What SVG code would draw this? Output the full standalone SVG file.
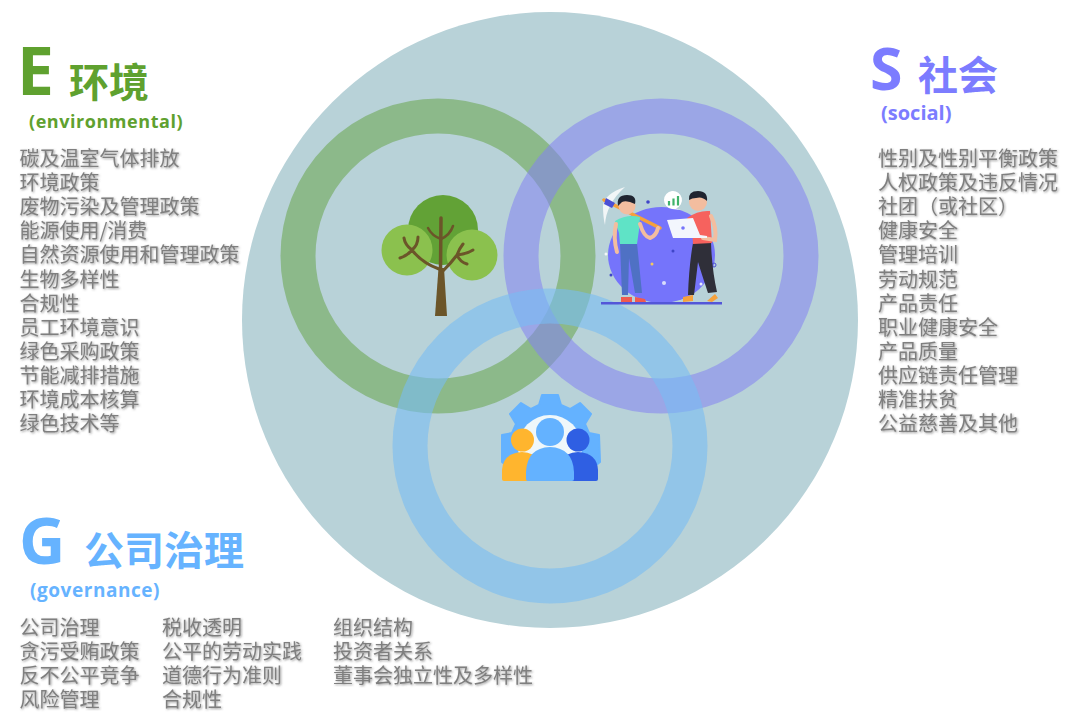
<svg xmlns="http://www.w3.org/2000/svg" width="1080" height="720" viewBox="0 0 1080 720">
  <style>
    text { font-family: "Liberation Sans", "Noto Sans CJK SC", sans-serif; }
    .cjk { font-family: "Noto Sans CJK SC", "Liberation Sans", sans-serif; }
    .item { font-family: "Noto Sans CJK SC", sans-serif; font-size: 20px; fill: #7f7f7f; filter: url(#soft); }
    .letter { font-size: 64px; font-weight: 700; font-family: "Open Sans", "Liberation Sans", sans-serif; }
    .title { font-size: 40px; font-weight: 700; }
    .sub { font-size: 20px; font-weight: 700; font-family: "Open Sans", "Liberation Sans", sans-serif; }
    .ring { fill: none; stroke-width: 35; }
    .branch { fill: none; stroke: #6b5529; stroke-linecap: round; stroke-linejoin: round; }
  </style>
  <defs>
    <filter id="soft" x="-5%" y="-20%" width="110%" height="150%">
      <feDropShadow dx="1" dy="1" stdDeviation="0.8" flood-color="#555555" flood-opacity="0.6"/>
    </filter>
  </defs>

  <rect width="1080" height="720" fill="#ffffff"/>

  <g id="venn">
    <circle cx="550" cy="320" r="308" fill="#b8d2d8"/>
    <circle class="ring" cx="438" cy="256" r="140" stroke="#68a44a" stroke-opacity="0.55"/>
    <circle class="ring" cx="661" cy="256" r="140" stroke="#8482f2" stroke-opacity="0.55"/>
    <circle class="ring" cx="550" cy="446" r="140" stroke="#78bcf4" stroke-opacity="0.6"/>
  </g>

  <g id="tree">
    <circle cx="443" cy="230" r="35" fill="#62a236"/>
    <circle cx="407" cy="250" r="25.500" fill="#8bc14e"/>
    <circle cx="472" cy="255" r="25.500" fill="#8bc14e"/>
    <path d="M438.500 268 L444 268 L447 316 L435 316 Z" fill="#6b5529"/>
    <path class="branch" d="M440.500 270 L441 218" stroke-width="3.500"/>
    <path class="branch" d="M441 239 Q432 236 428 228 M441 239 Q450 235 453 226" stroke-width="2.500"/>
    <path class="branch" d="M439 269 Q422 263 412 250 Q405 245 404 238 M412 250 Q418 245 418 237 M412 250 Q407 256 400 258" stroke-width="3"/>
    <path class="branch" d="M443 271 Q451 263 457 255 Q459 249 463 244 M457 255 Q467 254 473 250 M457 255 Q460 262 467 264" stroke-width="3"/>
  </g>

  <g id="people">
    <ellipse cx="661.500" cy="255" rx="53.500" ry="48" fill="#7574fb"/>
    <rect x="601" y="302" width="121" height="2.500" fill="#5356d8"/>
    <!-- pickaxe -->
    <path d="M625 187 Q604 194 603 206 Q603 217 605 225 Q606 204 625 187 Z" fill="#f2f6f7"/>
    <path d="M604 200 L660 228" stroke="#f6a13c" stroke-width="3.500" stroke-linecap="round"/>
    <path d="M606 198 L615 203 L612 208 L604 204 Z" fill="#4b4fd4"/>
    <!-- scattered dots -->
    <circle cx="648" cy="202" r="1.800" fill="#3f45c8"/>
    <circle cx="673" cy="251" r="1.500" fill="#3f45c8"/>
    <circle cx="611" cy="275" r="1.500" fill="#3f45c8"/>
    <circle cx="606" cy="254" r="1.500" fill="#f2f6f7"/>
    <circle cx="652" cy="264" r="1.500" fill="#f4c95d"/>
    <circle cx="664" cy="283" r="2" fill="#d8dcfb"/>
    <circle cx="701" cy="284" r="1.500" fill="#e8eafc"/>
    <circle cx="714" cy="265" r="2" fill="none" stroke="#4b4fd4"/>
    <!-- left figure -->
    <path d="M620 243 L637 243 L642 293 L635 293 L629 258 L628 295 L622 295 Z" fill="#4f71c4"/>
    <path d="M615 221 Q627 214 640 217 L639 230 L637 244 L620 244 L619 233 Z" fill="#5fe3c6"/>
    <path d="M616 224 Q613 238 617 252" fill="none" stroke="#f3bd9f" stroke-width="4" stroke-linecap="round"/>
    <path d="M640 224 Q644 237 650 238 Q656 236 658 228" fill="none" stroke="#f3bd9f" stroke-width="4" stroke-linecap="round"/>
    <circle cx="627" cy="206" r="8.500" fill="#f3bd9f"/>
    <path d="M618 206 Q616 195 627 195 Q637 195 635 204 Q627 200 622 202 Z" fill="#1f2430"/>
    <path d="M621 297 L632 297 L632 302 L621 302 Z M635 297 L645 299 L646 302 L635 302 Z" fill="#f05a4f"/>
    <!-- right figure -->
    <path d="M693 243 L711 243 Q712 270 717 292 L708 293 Q702 275 698 262 L694 295 L688 295 Q689 265 693 243 Z" fill="#2f2f39"/>
    <path d="M687 218 Q698 210 710 211 L712 243 L693 244 Q693 230 687 218 Z" fill="#f6625e"/>
    <path d="M711 216 Q717 228 715 240 L703 238" fill="none" stroke="#f3bd9f" stroke-width="4" stroke-linecap="round"/>
    <path d="M667 220 L693 218 L700 235 L707 236 L707 238 L673 238 Z" fill="#f3f6fd"/>
    <circle cx="683" cy="228" r="1.800" fill="#7574fb"/>
    <circle cx="698" cy="202" r="9" fill="#f3bd9f"/>
    <path d="M689 200 Q688 191 698 191 Q708 191 707 201 Q702 196 696 198 Q692 198 689 200 Z" fill="#1f2430"/>
    <path d="M683 297 L693 295 L693 301 L683 302 Z M707 301 L715 294 L718 298 L712 302 Z" fill="#f6a13c"/>
    <!-- chart bubble -->
    <path d="M664 200 A9 9 0 1 1 676 208.500 L681 210 L672 209 A9 9 0 0 1 664 200 Z" fill="#ffffff"/>
    <path d="M669 205.500 V201 M673.500 205.500 V198.500 M678 205.500 V196" stroke="#3fb36b" stroke-width="2.200"/>
  </g>

  <g id="team">
    <path d="M542 395 L558 395 L561 405 L570 409 L580 403 L591 414 L585 424 L589 433 L599 435 L600 462 L590 470 L512 470 L502 462 L502 435 L512 433 L516 424 L510 414 L521 403 L531 409 L539 405 Z" fill="#64b2ff" stroke="#64b2ff" stroke-width="2" stroke-linejoin="round"/>
    <circle cx="550" cy="447" r="32" fill="#eff7fa"/>
    <path d="M504 481 Q502 481 502 479 L502 470 Q503 453 522 452 Q534 452 540 462 L540 481 Z" fill="#ffb52e"/>
    <circle cx="522.500" cy="440" r="11.500" fill="#ffb52e"/>
    <path d="M596 481 Q598 481 598 479 L598 470 Q597 453 578 452 Q566 452 560 462 L560 481 Z" fill="#2f5fe3"/>
    <circle cx="578" cy="440" r="11.500" fill="#2f5fe3"/>
    <circle cx="550" cy="432" r="14" fill="#64b2ff"/>
    <path d="M528 481 Q526 481 526 479 L526 472 Q527 448 550 447 Q573 448 574 472 L574 479 Q574 481 572 481 Z" fill="#64b2ff"/>
  </g>

  <g id="environmental">
    <text class="letter" x="17" y="95" fill="#5fa12f" style="font-size:66px">E</text>
    <text class="title cjk" x="69" y="97" fill="#5fa12f">环境</text>
    <text class="sub" x="29" y="128" fill="#5fa12f" style="font-size:18px;letter-spacing:0.55px">(environmental)</text>
    <text class="item" x="19.500" y="166">碳及温室气体排放</text>
    <text class="item" x="19.500" y="190">环境政策</text>
    <text class="item" x="19.500" y="214">废物污染及管理政策</text>
    <text class="item" x="19.500" y="238">能源使用/消费</text>
    <text class="item" x="19.500" y="262">自然资源使用和管理政策</text>
    <text class="item" x="19.500" y="287">生物多样性</text>
    <text class="item" x="19.500" y="311">合规性</text>
    <text class="item" x="19.500" y="335">员工环境意识</text>
    <text class="item" x="19.500" y="359">绿色采购政策</text>
    <text class="item" x="19.500" y="383">节能减排措施</text>
    <text class="item" x="19.500" y="407">环境成本核算</text>
    <text class="item" x="19.500" y="431">绿色技术等</text>
  </g>

  <g id="social">
    <text class="letter" x="870" y="90" fill="#7c7cff" style="font-size:59px">S</text>
    <text class="title cjk" x="918" y="90" fill="#7c7cff">社会</text>
    <text class="sub" x="881" y="120" fill="#7c7cff">(social)</text>
    <text class="item" x="878" y="166">性别及性别平衡政策</text>
    <text class="item" x="878" y="190">人权政策及违反情况</text>
    <text class="item" x="878" y="214">社团（或社区）</text>
    <text class="item" x="878" y="238">健康安全</text>
    <text class="item" x="878" y="262">管理培训</text>
    <text class="item" x="878" y="287">劳动规范</text>
    <text class="item" x="878" y="311">产品责任</text>
    <text class="item" x="878" y="335">职业健康安全</text>
    <text class="item" x="878" y="359">产品质量</text>
    <text class="item" x="878" y="383">供应链责任管理</text>
    <text class="item" x="878" y="407">精准扶贫</text>
    <text class="item" x="878" y="431">公益慈善及其他</text>
  </g>

  <g id="governance">
    <text class="letter" x="19" y="564" fill="#66b3ff">G</text>
    <text class="title cjk" x="84" y="565" fill="#66b3ff">公司治理</text>
    <text class="sub" x="30" y="597" fill="#66b3ff" style="font-size:19px;letter-spacing:0.55px">(governance)</text>
    <text class="item" x="19.500" y="635">公司治理</text>
    <text class="item" x="19.500" y="659">贪污受贿政策</text>
    <text class="item" x="19.500" y="683">反不公平竞争</text>
    <text class="item" x="19.500" y="707">风险管理</text>
    <text class="item" x="162" y="635">税收透明</text>
    <text class="item" x="162" y="659">公平的劳动实践</text>
    <text class="item" x="162" y="683">道德行为准则</text>
    <text class="item" x="162" y="707">合规性</text>
    <text class="item" x="333" y="635">组织结构</text>
    <text class="item" x="333" y="659">投资者关系</text>
    <text class="item" x="333" y="683">董事会独立性及多样性</text>
  </g>
</svg>
